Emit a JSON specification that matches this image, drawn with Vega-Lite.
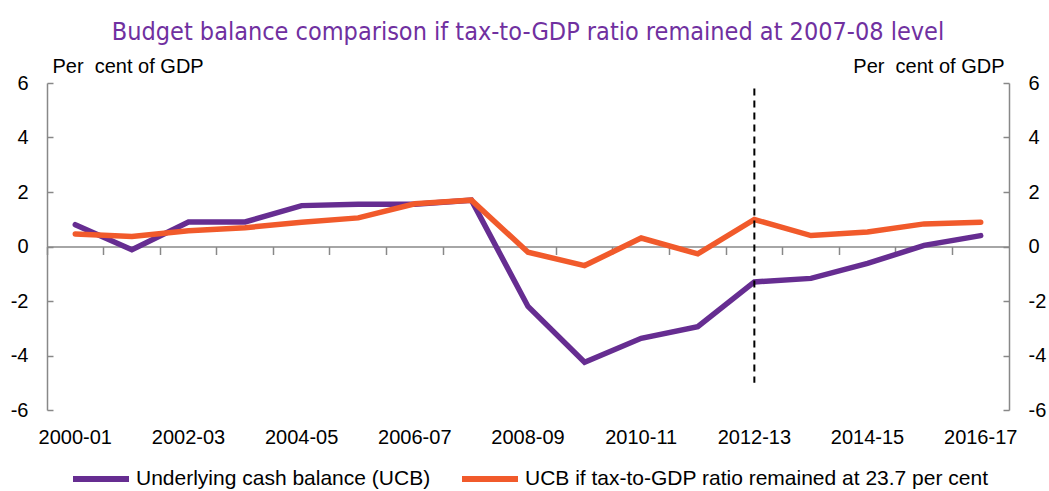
{
  "$schema": "https://vega.github.io/schema/vega-lite/v6.json",
  "width": 962,
  "height": 327,
  "autosize": {"type": "none"},
  "padding": {"left": 47, "top": 83, "right": 40, "bottom": 81},
  "background": "white",
  "config": {
    "view": {"stroke": null},
    "font": "Liberation Sans",
    "axis": {"grid": false, "domainColor": "#888888", "tickColor": "#888888", "domainWidth": 1.5, "tickWidth": 1.5, "labelColor": "#000000", "labelFont": "Liberation Sans", "labelFontSize": 20, "titleFont": "Liberation Sans", "titleFontSize": 20, "titleFontWeight": "normal", "titleColor": "#000000"}
  },
  "title": {
    "text": "Budget balance comparison if tax-to-GDP ratio remained at 2007-08 level",
    "font": "DejaVu Sans Condensed, Liberation Sans Narrow, sans-serif",
    "fontSize": 25,
    "fontWeight": "normal",
    "color": "#7030A0",
    "anchor": "middle",
    "offset": 11,
    "frame": "group"
  },
  "datasets": {
    "series": [
      {"year": "2000-01", "series": "Underlying cash balance (UCB)", "value": 0.8},
      {"year": "2001-02", "series": "Underlying cash balance (UCB)", "value": -0.12},
      {"year": "2002-03", "series": "Underlying cash balance (UCB)", "value": 0.9},
      {"year": "2003-04", "series": "Underlying cash balance (UCB)", "value": 0.9},
      {"year": "2004-05", "series": "Underlying cash balance (UCB)", "value": 1.5},
      {"year": "2005-06", "series": "Underlying cash balance (UCB)", "value": 1.55},
      {"year": "2006-07", "series": "Underlying cash balance (UCB)", "value": 1.55},
      {"year": "2007-08", "series": "Underlying cash balance (UCB)", "value": 1.7},
      {"year": "2008-09", "series": "Underlying cash balance (UCB)", "value": -2.2},
      {"year": "2009-10", "series": "Underlying cash balance (UCB)", "value": -4.25},
      {"year": "2010-11", "series": "Underlying cash balance (UCB)", "value": -3.37},
      {"year": "2011-12", "series": "Underlying cash balance (UCB)", "value": -2.94},
      {"year": "2012-13", "series": "Underlying cash balance (UCB)", "value": -1.3},
      {"year": "2013-14", "series": "Underlying cash balance (UCB)", "value": -1.17},
      {"year": "2014-15", "series": "Underlying cash balance (UCB)", "value": -0.62},
      {"year": "2015-16", "series": "Underlying cash balance (UCB)", "value": 0.04},
      {"year": "2016-17", "series": "Underlying cash balance (UCB)", "value": 0.4},
      {"year": "2000-01", "series": "UCB if tax-to-GDP ratio remained at 23.7 per cent", "value": 0.46},
      {"year": "2001-02", "series": "UCB if tax-to-GDP ratio remained at 23.7 per cent", "value": 0.37},
      {"year": "2002-03", "series": "UCB if tax-to-GDP ratio remained at 23.7 per cent", "value": 0.58},
      {"year": "2003-04", "series": "UCB if tax-to-GDP ratio remained at 23.7 per cent", "value": 0.69},
      {"year": "2004-05", "series": "UCB if tax-to-GDP ratio remained at 23.7 per cent", "value": 0.89},
      {"year": "2005-06", "series": "UCB if tax-to-GDP ratio remained at 23.7 per cent", "value": 1.05},
      {"year": "2006-07", "series": "UCB if tax-to-GDP ratio remained at 23.7 per cent", "value": 1.57},
      {"year": "2007-08", "series": "UCB if tax-to-GDP ratio remained at 23.7 per cent", "value": 1.7},
      {"year": "2008-09", "series": "UCB if tax-to-GDP ratio remained at 23.7 per cent", "value": -0.21},
      {"year": "2009-10", "series": "UCB if tax-to-GDP ratio remained at 23.7 per cent", "value": -0.7},
      {"year": "2010-11", "series": "UCB if tax-to-GDP ratio remained at 23.7 per cent", "value": 0.31},
      {"year": "2011-12", "series": "UCB if tax-to-GDP ratio remained at 23.7 per cent", "value": -0.27},
      {"year": "2012-13", "series": "UCB if tax-to-GDP ratio remained at 23.7 per cent", "value": 0.99},
      {"year": "2013-14", "series": "UCB if tax-to-GDP ratio remained at 23.7 per cent", "value": 0.4},
      {"year": "2014-15", "series": "UCB if tax-to-GDP ratio remained at 23.7 per cent", "value": 0.53},
      {"year": "2015-16", "series": "UCB if tax-to-GDP ratio remained at 23.7 per cent", "value": 0.83},
      {"year": "2016-17", "series": "UCB if tax-to-GDP ratio remained at 23.7 per cent", "value": 0.89}
    ],
    "marker": [
      {"year": "2012-13", "top": 5.8, "bottom": -5.0}
    ]
  },
  "layer": [
    {
      "data": {"name": "series"},
      "mark": {"type": "line", "strokeWidth": 5.5, "strokeJoin": "miter", "strokeCap": "round"},
      "encoding": {
        "x": {
          "field": "year", "type": "ordinal",
          "scale": {"type": "band", "paddingInner": 0, "paddingOuter": 0},
          "axis": {"orient": "bottom", "domain": false, "ticks": false, "labelAngle": 0, "labelPadding": 17, "title": null, "labelExpr": "indexof(['2000-01','2002-03','2004-05','2006-07','2008-09','2010-11','2012-13','2014-15','2016-17'], datum.value) >= 0 ? datum.value : ''"}
        },
        "y": {
          "field": "value", "type": "quantitative",
          "scale": {"domain": [-6, 6], "nice": false, "zero": false},
          "axis": {"orient": "left", "values": [-6, -4, -2, 0, 2, 4, 6], "labelExpr": "'' + datum.value", "tickSize": -6, "labelPadding": 25, "title": "Per\u00a0 cent of GDP", "titleAngle": 0, "titleAlign": "left", "titleBaseline": "alphabetic", "titleX": 5, "titleY": -11}
        },
        "color": {
          "field": "series", "type": "nominal",
          "scale": {"domain": ["Underlying cash balance (UCB)", "UCB if tax-to-GDP ratio remained at 23.7 per cent"], "range": ["#662D91", "#F15A2B"]},
          "legend": {"orient": "none", "direction": "horizontal", "legendX": 23, "legendY": 365, "title": null, "symbolType": "stroke", "symbolStrokeWidth": 6, "symbolSize": 3136, "labelFontSize": 21, "labelColor": "#000000", "columnPadding": 19, "labelOffset": 4, "labelLimit": 600}
        }
      }
    },
    {
      "data": {"name": "marker"},
      "mark": {"type": "rule", "strokeDash": [7, 5], "strokeWidth": 2, "color": "#000000"},
      "encoding": {
        "x": {
          "field": "year", "type": "ordinal",
          "axis": {"orient": "bottom", "offset": -163.5, "labels": false, "bandPosition": 0, "tickSize": 8, "domain": true, "title": null}
        },
        "y": {
          "field": "top", "type": "quantitative",
          "axis": {"orient": "right", "values": [-6, -4, -2, 0, 2, 4, 6], "labelExpr": "'' + datum.value", "tickSize": -6, "labelPadding": 25, "title": "Per\u00a0 cent of GDP", "titleAngle": 0, "titleAlign": "right", "titleBaseline": "alphabetic", "titleX": -5, "titleY": -11}
        },
        "y2": {"field": "bottom"}
      }
    }
  ],
  "resolve": {"axis": {"x": "independent", "y": "independent"}}
}
